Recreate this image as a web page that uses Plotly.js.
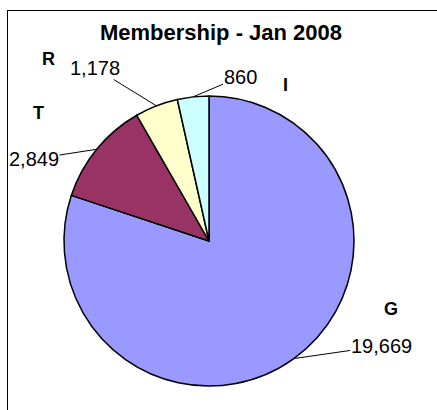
<!DOCTYPE html>
<html>
<head>
<meta charset="utf-8">
<script src="https://cdn.plot.ly/plotly-3.0.1.min.js"></script>
<style>
  html, body { margin: 0; padding: 0; background: #fff; overflow: hidden; }
  #wrap { position: relative; width: 437px; height: 410px; overflow: hidden; }
  #frame { position: absolute; left: 7px; top: 10px; width: 460px; height: 440px;
           border: 1.5px solid #000; box-sizing: border-box; pointer-events: none; z-index: 5; }
  #chart { position: absolute; left: 0; top: 0; width: 437px; height: 410px; }
</style>
</head>
<body>
<div id="wrap">
  <div id="chart"></div>
  <div id="frame"></div>
</div>
<script>
// ---- data ----
const categories = ["G", "T", "R", "I"];
const members = [19669, 2849, 1178, 860];
const sliceColors = ["#9999FF", "#993366", "#FFFFCC", "#CCFFFF"];
const chartTitle = "Membership - Jan 2008";

// ---- geometry (pixels) ----
const W = 437, H = 410;
const cx = 209, cy = 241, R = 145;

// label placements (pixels, text centers)
const valuePos = [[381, 346], [34, 159], [95, 68], [240, 77]];
const catPos = [[391, 309], [38, 113], [48, 59], [285, 85]];

const total = members.reduce((a, b) => a + b, 0);
const fmt = v => v.toLocaleString("en-US");

const annotations = [];
let cum = 0;
members.forEach((v, i) => {
  const mid = (cum + v / 2) / total * 2 * Math.PI; // clockwise from 12 o'clock
  cum += v;
  const tx = cx + R * Math.sin(mid);
  const ty = cy - R * Math.cos(mid);
  annotations.push({
    xref: "paper", yref: "paper",
    x: tx / W, y: 1 - ty / H,
    ax: valuePos[i][0] - tx, ay: valuePos[i][1] - ty,
    text: fmt(v), showarrow: true, arrowhead: 0, arrowwidth: 1, arrowcolor: "#000",
    borderpad: 0, standoff: 0,
    font: { family: "Liberation Sans, Arial, sans-serif", size: 20, color: "#000" }
  });
  annotations.push({
    xref: "paper", yref: "paper",
    x: catPos[i][0] / W, y: 1 - catPos[i][1] / H,
    xanchor: "center", yanchor: "middle",
    text: "<b>" + categories[i] + "</b>", showarrow: false,
    font: { family: "Liberation Sans, Arial, sans-serif", size: 18, color: "#000" }
  });
});

const trace = {
  type: "pie",
  labels: categories,
  values: members,
  sort: false,
  direction: "clockwise",
  rotation: 0,
  textinfo: "none",
  hoverinfo: "label+value",
  marker: { colors: sliceColors, line: { color: "#000", width: 1.5 } },
  domain: { x: [(cx - R) / W, (cx + R) / W], y: [1 - (cy + R) / H, 1 - (cy - R) / H] },
  showlegend: false
};

const layout = {
  width: W, height: H,
  margin: { l: 0, r: 0, t: 0, b: 0 },
  paper_bgcolor: "#fff",
  showlegend: false,
  title: {
    text: "<b>" + chartTitle + "</b>",
    x: 221 / W, xanchor: "center",
    y: 1 - 32 / H, yanchor: "middle",
    font: { family: "Liberation Sans, Arial, sans-serif", size: 22, color: "#000" }
  },
  annotations: annotations
};

Plotly.newPlot("chart", [trace], layout, { displayModeBar: false, staticPlot: true });
</script>
</body>
</html>
